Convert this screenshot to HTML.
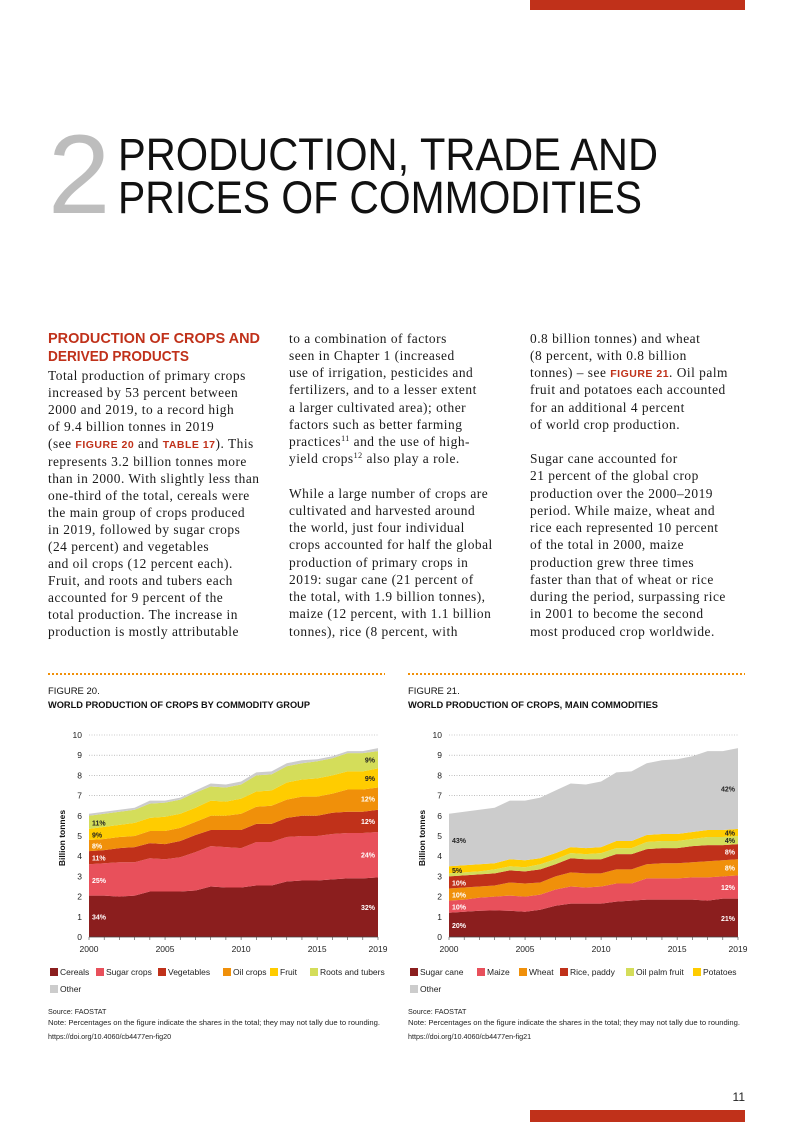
<!DOCTYPE html>
<html><head><meta charset="utf-8"><style>
html,body{margin:0;padding:0;background:#fff;}
svg{display:block;}
.b{font-family:"Liberation Serif",serif;font-size:13.4px;letter-spacing:0.5px;fill:#1a1a1a;}
.s{font-family:"Liberation Sans",sans-serif;}
</style></head><body>
<svg id="page" width="793" height="1122" viewBox="0 0 793 1122" xmlns="http://www.w3.org/2000/svg">
<rect x="530" y="0" width="215" height="10" fill="#c0311a"/>
<rect x="530" y="1110" width="215" height="12" fill="#c0311a"/>
<text x="745" y="1101" text-anchor="end" class="s" font-size="12" fill="#222">11</text>

<text x="48" y="213" class="s" font-size="112" fill="#bdbdbd">2</text>
<text x="118" y="170" class="s" font-size="45" textLength="540" lengthAdjust="spacingAndGlyphs" fill="#111">PRODUCTION, TRADE AND</text>
<text x="118" y="213" class="s" font-size="45" textLength="524" lengthAdjust="spacingAndGlyphs" fill="#111">PRICES OF COMMODITIES</text>

<g class="s" font-weight="bold" font-size="15" fill="#c0311a">
<text x="48" y="343" textLength="212" lengthAdjust="spacingAndGlyphs">PRODUCTION OF CROPS AND</text>
<text x="48" y="361" textLength="141" lengthAdjust="spacingAndGlyphs">DERIVED PRODUCTS</text>
</g>

<g class="b">
<text x="48" y="380">Total production of primary crops</text>
<text x="48" y="397">increased by 53 percent between</text>
<text x="48" y="414">2000 and 2019, to a record high</text>
<text x="48" y="431">of 9.4 billion tonnes in 2019</text>
<text x="48" y="448">(see <tspan fill="#c0311a" font-weight="bold" font-size="10.5" class="s">FIGURE 20</tspan> and <tspan fill="#c0311a" font-weight="bold" font-size="10.5" class="s">TABLE 17</tspan>). This</text>
<text x="48" y="466">represents 3.2 billion tonnes more</text>
<text x="48" y="483">than in 2000. With slightly less than</text>
<text x="48" y="500">one-third of the total, cereals were</text>
<text x="48" y="517">the main group of crops produced</text>
<text x="48" y="534">in 2019, followed by sugar crops</text>
<text x="48" y="551">(24 percent) and vegetables</text>
<text x="48" y="568">and oil crops (12 percent each).</text>
<text x="48" y="585">Fruit, and roots and tubers each</text>
<text x="48" y="602">accounted for 9 percent of the</text>
<text x="48" y="619">total production. The increase in</text>
<text x="48" y="636">production is mostly attributable</text>
</g>
<g class="b">
<text x="289" y="343">to a combination of factors</text>
<text x="289" y="360">seen in Chapter 1 (increased</text>
<text x="289" y="377">use of irrigation, pesticides and</text>
<text x="289" y="394">fertilizers, and to a lesser extent</text>
<text x="289" y="412">a larger cultivated area); other</text>
<text x="289" y="429">factors such as better farming</text>
<text x="289" y="446">practices<tspan font-size="8" dy="-5">11</tspan><tspan dy="5"> and the use of high-</tspan></text>
<text x="289" y="463">yield crops<tspan font-size="8" dy="-5">12</tspan><tspan dy="5"> also play a role.</tspan></text>
<text x="289" y="498">While a large number of crops are</text>
<text x="289" y="515">cultivated and harvested around</text>
<text x="289" y="532">the world, just four individual</text>
<text x="289" y="549">crops accounted for half the global</text>
<text x="289" y="567">production of primary crops in</text>
<text x="289" y="584">2019: sugar cane (21 percent of</text>
<text x="289" y="601">the total, with 1.9 billion tonnes),</text>
<text x="289" y="618">maize (12 percent, with 1.1 billion</text>
<text x="289" y="636">tonnes), rice (8 percent, with</text>
</g>
<g class="b">
<text x="530" y="343">0.8 billion tonnes) and wheat</text>
<text x="530" y="360">(8 percent, with 0.8 billion</text>
<text x="530" y="377">tonnes) – see <tspan fill="#c0311a" font-weight="bold" font-size="10.5" class="s">FIGURE 21</tspan>. Oil palm</text>
<text x="530" y="394">fruit and potatoes each accounted</text>
<text x="530" y="412">for an additional 4 percent</text>
<text x="530" y="429">of world crop production.</text>
<text x="530" y="463">Sugar cane accounted for</text>
<text x="530" y="480">21 percent of the global crop</text>
<text x="530" y="498">production over the 2000–2019</text>
<text x="530" y="515">period. While maize, wheat and</text>
<text x="530" y="532">rice each represented 10 percent</text>
<text x="530" y="549">of the total in 2000, maize</text>
<text x="530" y="567">production grew three times</text>
<text x="530" y="584">faster than that of wheat or rice</text>
<text x="530" y="601">during the period, surpassing rice</text>
<text x="530" y="618">in 2001 to become the second</text>
<text x="530" y="636">most produced crop worldwide.</text>
</g>

<line x1="48" y1="674" x2="385" y2="674" stroke="#f0900a" stroke-width="2" stroke-dasharray="2,2"/>
<line x1="408" y1="674" x2="745" y2="674" stroke="#f0900a" stroke-width="2" stroke-dasharray="2,2"/>

<g class="s" fill="#111">
<text x="48" y="694" font-size="9.5">FIGURE 20.</text>
<text x="48" y="708" font-size="9" font-weight="bold" textLength="262" lengthAdjust="spacingAndGlyphs">WORLD PRODUCTION OF CROPS BY COMMODITY GROUP</text>
<text x="408" y="694" font-size="9.5">FIGURE 21.</text>
<text x="408" y="708" font-size="9" font-weight="bold" textLength="250" lengthAdjust="spacingAndGlyphs">WORLD PRODUCTION OF CROPS, MAIN COMMODITIES</text>
</g>

<g id="chart1"></g>
<g id="chart2"></g>

<g class="s" font-size="7.2" fill="#222">
<text x="48" y="1014">Source: FAOSTAT</text>
<text x="48" y="1025" textLength="332" lengthAdjust="spacingAndGlyphs">Note: Percentages on the figure indicate the shares in the total; they may not tally due to rounding.</text>
<text x="48" y="1039">https://doi.org/10.4060/cb4477en-fig20</text>
<text x="408" y="1014">Source: FAOSTAT</text>
<text x="408" y="1025" textLength="332" lengthAdjust="spacingAndGlyphs">Note: Percentages on the figure indicate the shares in the total; they may not tally due to rounding.</text>
<text x="408" y="1039">https://doi.org/10.4060/cb4477en-fig21</text>
</g>
</svg>
<script>
const years = [2000,2001,2002,2003,2004,2005,2006,2007,2008,2009,2010,2011,2012,2013,2014,2015,2016,2017,2018,2019];
const yTicks = [0,1,2,3,4,5,6,7,8,9,10];
const xTickLabels = [2000,2005,2010,2015,2019];

const c1Names = ["Cereals","Sugar crops","Vegetables","Oil crops","Fruit","Roots and tubers","Other"];
const c1Cereals = [2.05,2.05,2.0,2.05,2.25,2.25,2.25,2.3,2.5,2.45,2.45,2.55,2.55,2.75,2.8,2.8,2.85,2.9,2.9,2.95];
const c1Sugar = [1.55,1.6,1.7,1.65,1.65,1.6,1.7,1.9,2.0,2.0,1.95,2.15,2.15,2.2,2.2,2.2,2.25,2.25,2.25,2.25];
const c1Veg = [0.65,0.65,0.7,0.75,0.75,0.75,0.8,0.85,0.8,0.85,0.9,0.9,0.9,0.95,1.0,1.0,1.05,1.05,1.05,1.1];
const c1Oil = [0.55,0.55,0.55,0.55,0.6,0.65,0.65,0.65,0.7,0.7,0.8,0.85,0.9,0.9,0.95,0.95,0.95,1.1,1.1,1.1];
const c1Fruit = [0.55,0.6,0.6,0.65,0.65,0.7,0.7,0.7,0.75,0.7,0.75,0.75,0.75,0.85,0.85,0.9,0.9,0.9,0.9,0.95];
const c1Roots = [0.65,0.65,0.65,0.65,0.7,0.7,0.7,0.75,0.7,0.7,0.7,0.8,0.8,0.8,0.8,0.85,0.85,0.9,0.9,0.85];
const c1Other = [0.1,0.1,0.1,0.1,0.15,0.1,0.1,0.1,0.15,0.15,0.15,0.15,0.15,0.15,0.15,0.1,0.1,0.1,0.1,0.15];
const c1Start = ["34%","25%","11%","8%","9%","11%",null];
const c1End = ["32%","24%","12%","12%","9%","9%",null];

const c2Names = ["Sugar cane","Maize","Wheat","Rice, paddy","Oil palm fruit","Potatoes","Other"];
const c2Cane = [1.2,1.25,1.3,1.32,1.3,1.25,1.35,1.55,1.65,1.65,1.65,1.75,1.8,1.85,1.85,1.85,1.85,1.8,1.9,1.9];
const c2Maize = [0.6,0.6,0.65,0.68,0.75,0.75,0.75,0.8,0.85,0.8,0.85,0.9,0.85,1.05,1.05,1.05,1.1,1.15,1.1,1.15];
const c2Wheat = [0.6,0.6,0.55,0.55,0.65,0.65,0.6,0.65,0.7,0.7,0.65,0.7,0.7,0.7,0.75,0.75,0.75,0.8,0.8,0.8];
const c2Rice = [0.6,0.6,0.6,0.6,0.6,0.6,0.65,0.6,0.7,0.7,0.7,0.75,0.75,0.75,0.75,0.75,0.8,0.8,0.75,0.75];
const c2Palm = [0.15,0.15,0.15,0.2,0.2,0.2,0.25,0.25,0.25,0.25,0.3,0.3,0.3,0.35,0.35,0.35,0.35,0.4,0.4,0.4];
const c2Potato = [0.35,0.35,0.35,0.3,0.35,0.35,0.3,0.3,0.3,0.3,0.3,0.35,0.35,0.35,0.35,0.35,0.35,0.35,0.35,0.35];
const c2Other = [2.6,2.65,2.7,2.75,2.9,2.95,3.0,3.1,3.15,3.15,3.25,3.4,3.45,3.55,3.65,3.7,3.75,3.9,3.9,4.0];
const c2Start = ["20%","10%","10%","10%",null,"5%","43%"];
const c2End = ["21%","12%","8%","8%","4%","4%","42%"];

const NS = "http://www.w3.org/2000/svg";
function mk(parent, tag, attrs, txt){
  const e = document.createElementNS(NS, tag);
  for (const k in attrs) e.setAttribute(k, attrs[k]);
  if (txt !== undefined) e.textContent = txt;
  parent.appendChild(e);
  return e;
}

function drawChart(g, cfg){
  const xS = y => cfg.x0 + (y - years[0]) / (years[years.length-1] - years[0]) * (cfg.x1 - cfg.x0);
  const yS = v => cfg.yBase - v / 10 * (cfg.yBase - cfg.yTop);
  yTicks.forEach(t => {
    if (t > 0) {
      const gl = mk(g, "line", {x1:cfg.x0, x2:cfg.x1, y1:yS(t), y2:yS(t), stroke:"#999", "stroke-width":0.6, "stroke-dasharray":"1,1.5"});
      
      
    }
    const tl = mk(g, "text", {x:cfg.x0 - 7, y:yS(t) + 3, "text-anchor":"end", "font-size":8.5, "font-family":"Liberation Sans, sans-serif", fill:"#222"}, String(t));
    
    
  });
  let base = years.map(() => 0);
  const tops = [];
  cfg.series.forEach((s, i) => {
    const top = base.map((b, k) => b + s[k]);
    let d = "M" + years.map((y, k) => xS(y) + "," + yS(top[k])).join(" L");
    for (let k = years.length - 1; k >= 0; k--) d += " L" + xS(years[k]) + "," + yS(base[k]);
    d += " Z";
    const p = mk(g, "path", {d:d, fill:cfg.colors[i]});
    
    
    tops.push({base:base.slice(), top:top});
    base = top;
  });
  cfg.series.forEach((s, i) => {
    const n = years.length - 1;
    const fill = cfg.darkText[i] ? "#222" : "#fff";
    if (cfg.start[i]) {
      const v = (tops[i].base[0] + tops[i].top[0]) / 2;
      const t = mk(g, "text", {x:cfg.x0 + 3, y:yS(v) + 3, "font-size":7, "font-weight":"bold", "font-family":"Liberation Sans, sans-serif", fill:fill}, cfg.start[i]);
      
      
    }
    if (cfg.end[i]) {
      const v = (tops[i].base[n] + tops[i].top[n]) / 2;
      const t = mk(g, "text", {x:cfg.x1 - 3, y:yS(v) + 3, "text-anchor":"end", "font-size":7, "font-weight":"bold", "font-family":"Liberation Sans, sans-serif", fill:fill}, cfg.end[i]);
      
      
    }
  });
  const ax = mk(g, "line", {x1:cfg.x0, x2:cfg.x1, y1:cfg.yBase, y2:cfg.yBase, stroke:"#444", "stroke-width":0.8});
  
  
  years.forEach(y => {
    const tk = mk(g, "line", {x1:xS(y), x2:xS(y), y1:cfg.yBase, y2:cfg.yBase + 3, stroke:"#444", "stroke-width":0.6});
    
    
  });
  xTickLabels.forEach(y => {
    const t = mk(g, "text", {x:xS(y), y:cfg.yBase + 15, "text-anchor":"middle", "font-size":8.5, "font-family":"Liberation Sans, sans-serif", fill:"#222"}, String(y));
    
    
  });
  const yt = mk(g, "text", {x:0, y:0, transform:"translate(" + cfg.yTitleX + "," + yS(4.9) + ") rotate(-90)", "text-anchor":"middle", "font-size":8.5, "font-weight":"bold", "font-family":"Liberation Sans, sans-serif", fill:"#111"}, "Billion tonnes");
  
  
  cfg.names.forEach((nm, i) => {
    const lg = mk(g, "g", {});
    
    
    const lx = cfg.legendX[i], ly = cfg.legendY[i];
    mk(lg, "rect", {x:lx, y:ly - 7, width:8, height:8, fill:cfg.colors[i]});
    mk(lg, "text", {x:lx + 10, y:ly, "font-size":8.5, "font-family":"Liberation Sans, sans-serif", fill:"#222"}, nm);
  });
}

drawChart(document.getElementById("chart1"), {
  x0:89, x1:378, yBase:937, yTop:735, yTitleX:65,
  series:[c1Cereals,c1Sugar,c1Veg,c1Oil,c1Fruit,c1Roots,c1Other],
  names:c1Names, start:c1Start, end:c1End,
  colors:["#8b1e1e","#e8505b","#c0311a","#f0900a","#ffcc00","#d4dd5a","#cccccc"],
  darkText:[false,false,false,false,true,true,true],
  legendX:[50,96,158,223,270,310,50], legendY:[975,975,975,975,975,975,992]
});
drawChart(document.getElementById("chart2"), {
  x0:449, x1:738, yBase:937, yTop:735, yTitleX:425,
  series:[c2Cane,c2Maize,c2Wheat,c2Rice,c2Palm,c2Potato,c2Other],
  names:c2Names, start:c2Start, end:c2End,
  colors:["#8b1e1e","#e8505b","#f0900a","#c0311a","#d4dd5a","#ffcc00","#cccccc"],
  darkText:[false,false,false,false,true,true,true],
  legendX:[410,477,519,560,626,693,410], legendY:[975,975,975,975,975,975,992]
});
</script>
</body></html>
